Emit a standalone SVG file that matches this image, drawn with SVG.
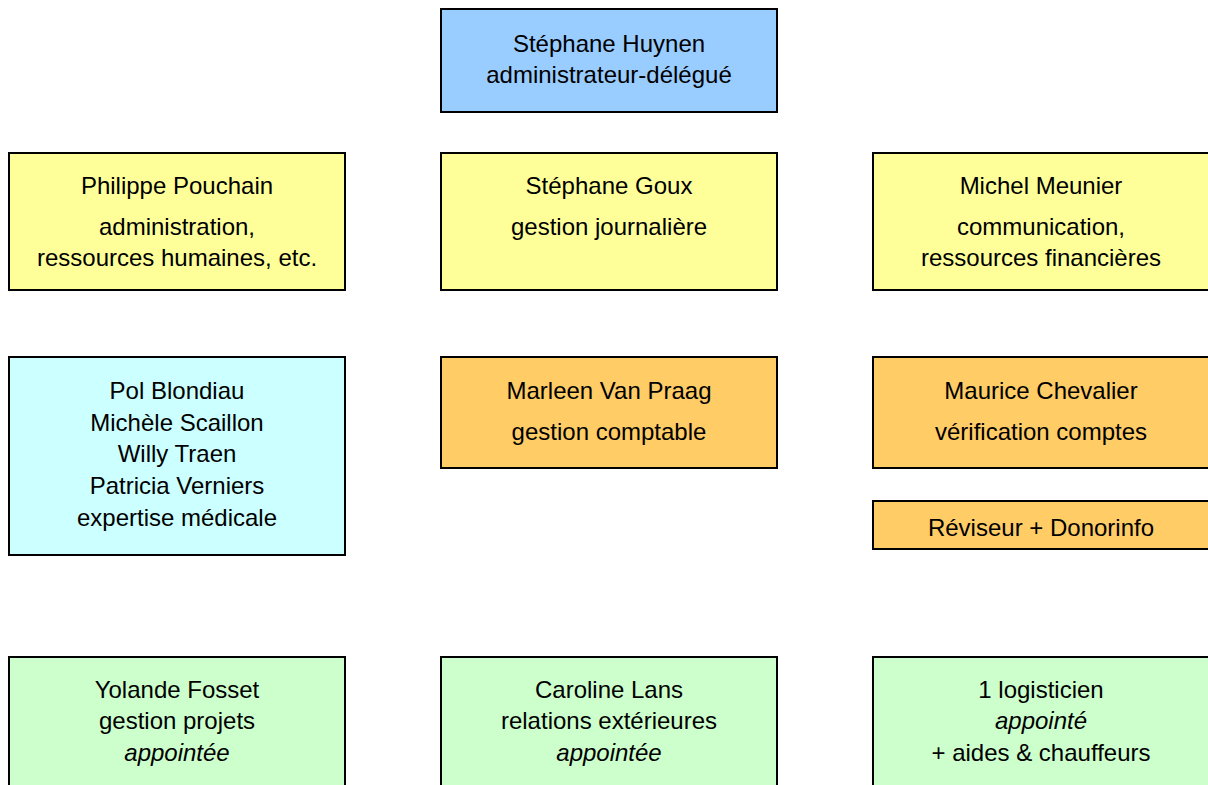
<svg xmlns="http://www.w3.org/2000/svg" width="1208" height="785" viewBox="0 0 1208 785">
<style>
.n{stroke:#000;stroke-width:2}
text{font-family:"Liberation Sans",Arial,sans-serif;font-size:24px;fill:#000;text-anchor:middle}
.i{font-style:italic}
.b{fill:#99CCFF}.y{fill:#FFFF99}.c{fill:#CCFFFF}.o{fill:#FFCC66}.g{fill:#CCFFCC}
</style>
<rect width="1208" height="785" fill="#fff"/>
<g id="huynen"><rect class="n b" x="441" y="9" width="336" height="103"/><text x="609" y="52">Stéphane Huynen</text><text x="609" y="83">administrateur-délégué</text></g>
<g id="pouchain"><rect class="n y" x="9" y="153" width="336" height="137"/><text x="177" y="194">Philippe Pouchain</text><text x="177" y="235">administration,</text><text x="177" y="266">ressources humaines, etc.</text></g>
<g id="goux"><rect class="n y" x="441" y="153" width="336" height="137"/><text x="609" y="194">Stéphane Goux</text><text x="609" y="235">gestion journalière</text></g>
<g id="meunier"><rect class="n y" x="873" y="153" width="340" height="137"/><text x="1041" y="194">Michel Meunier</text><text x="1041" y="235">communication,</text><text x="1041" y="266">ressources financières</text></g>
<g id="medical"><rect class="n c" x="9" y="357" width="336" height="198"/><text x="177" y="399">Pol Blondiau</text><text x="177" y="431">Michèle Scaillon</text><text x="177" y="462">Willy Traen</text><text x="177" y="494">Patricia Verniers</text><text x="177" y="526">expertise médicale</text></g>
<g id="vanpraag"><rect class="n o" x="441" y="357" width="336" height="111"/><text x="609" y="399">Marleen Van Praag</text><text x="609" y="440">gestion comptable</text></g>
<g id="chevalier"><rect class="n o" x="873" y="357" width="340" height="111"/><text x="1041" y="399">Maurice Chevalier</text><text x="1041" y="440">vérification comptes</text></g>
<g id="reviseur"><rect class="n o" x="873" y="501" width="340" height="48"/><text x="1041" y="536">Réviseur + Donorinfo</text></g>
<g id="fosset"><rect class="n g" x="9" y="657" width="336" height="140"/><text x="177" y="698">Yolande Fosset</text><text x="177" y="729">gestion projets</text><text class="i" x="177" y="761">appointée</text></g>
<g id="lans"><rect class="n g" x="441" y="657" width="336" height="140"/><text x="609" y="698">Caroline Lans</text><text x="609" y="729">relations extérieures</text><text class="i" x="609" y="761">appointée</text></g>
<g id="logisticien"><rect class="n g" x="873" y="657" width="340" height="140"/><text x="1041" y="698">1 logisticien</text><text class="i" x="1041" y="729">appointé</text><text x="1041" y="761">+ aides &amp; chauffeurs</text></g>
<g id="connectors"/>
</svg>
